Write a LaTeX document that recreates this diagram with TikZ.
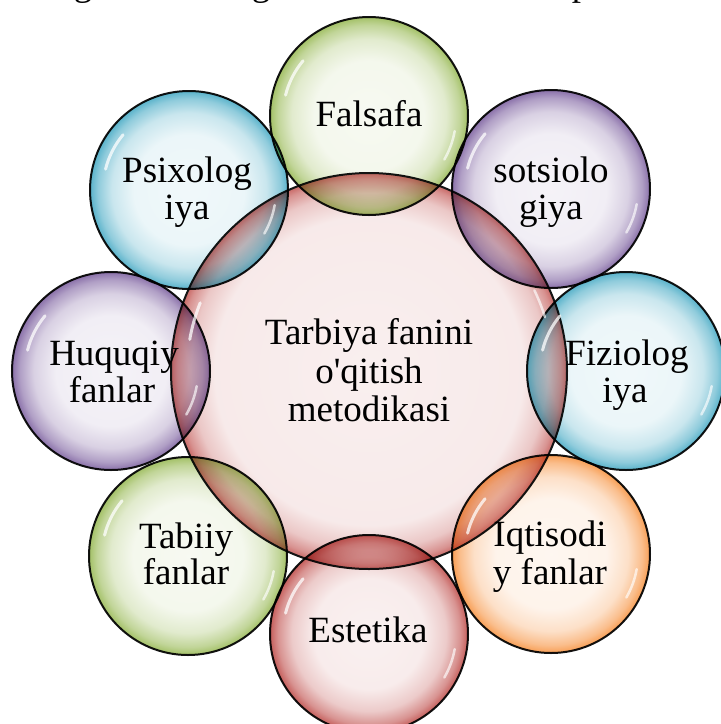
\documentclass[tikz,border=0pt]{standalone}
\usepackage{fontspec}
\setmainfont{Liberation Serif}
\newfontfamily\lserif{Liberation Serif}
\definecolor{cgreen}{HTML}{9BBB59}
\definecolor{cpurple}{HTML}{8064A2}
\definecolor{caqua}{HTML}{4BACC6}
\definecolor{corange}{HTML}{F79646}
\definecolor{cred}{HTML}{C0504D}
\colorlet{bubcol}{cred}
\pgfdeclareradialshading[bubcol]{bubble}{\pgfpoint{0bp}{0bp}}{%
 color(0bp)=(bubcol!8!white); color(14bp)=(bubcol!11!white);
 color(19.5bp)=(bubcol!30!white); color(23bp)=(bubcol!62!white);
 color(25bp)=(bubcol!92!white); color(50bp)=(bubcol!92!white)}
\pgfdeclareradialshading[bubcol]{bigbubble}{\pgfpoint{0bp}{0bp}}{%
 color(0bp)=(bubcol!9!white); color(19.5bp)=(bubcol!12!white);
 color(22.5bp)=(bubcol!32!white); color(24.2bp)=(bubcol!62!white);
 color(25bp)=(bubcol!85!white); color(50bp)=(bubcol!85!white)}
\tikzset{
 bub/.style={circle, inner sep=0pt, minimum size=198pt,
   /utils/exec={\colorlet{bubcol}{#1}}, shading=bubble},
 cenbub/.style={circle, inner sep=0pt, minimum size=396pt,
   /utils/exec={\colorlet{bubcol}{#1}}, shading=bigbubble},
 rim/.style={draw=black!92, line width=2pt},
 lbl/.style={anchor=base, font=\lserif\fontsize{37}{40}\selectfont, inner sep=0pt},
 hl/.style={draw=white, line width=3pt, line cap=round, draw opacity=0.75},
 hlb/.style={draw=white, line width=2.5pt, line cap=round, draw opacity=0.65},
}
\newcommand{\bubhl}[1]{%
 \draw[hl] ([shift={(140:86pt)}]#1.center) arc[start angle=140, end angle=166, radius=86pt];
 \draw[hlb] ([shift={(-30:87pt)}]#1.center) arc[start angle=-30, end angle=-10, radius=87pt];}
\begin{document}
\begin{tikzpicture}[x=1pt,y=1pt]
\useasboundingbox (0,0) rectangle (721,-724);
% fragments of a line of text above the picture
\begin{scope}
\clip (0,0) rectangle (721,-724);
\node[lbl] (topa) at (83,4.5) {g};
\node[lbl] (topb) at (261,4.5) {g};
\node[lbl] (topc) at (581,4.5) {p};
\end{scope}
% central bubble
\node[cenbub=cred, rim] (cen) at (369,-371) {};
% outer bubbles
\begin{scope}[blend mode=multiply]
\node[bub=cgreen, rim] (fal) at (369,-116) {};
\node[bub=cpurple, rim] (sot) at (551,-189) {};
\node[bub=caqua, rim] (fiz) at (626,-371) {};
\node[bub=corange, rim] (iqt) at (551,-554) {};
\node[bub=cred, rim] (est) at (369,-634) {};
\node[bub=cgreen, rim] (tab) at (188,-556) {};
\node[bub=cpurple, rim] (huq) at (111,-371) {};
\node[bub=caqua, rim] (psi) at (189,-190) {};
\end{scope}
% highlights
\foreach \b in {fal,sot,fiz,iqt,est,tab,huq,psi}{\bubhl{\b}}
\draw[hl] ([shift={(158:182pt)}]cen.center) arc[start angle=158, end angle=170, radius=182pt];
\draw[hlb] ([shift={(17:184pt)}]cen.center) arc[start angle=17, end angle=26, radius=184pt];
% texts
\node[lbl] (t1) at (369,-344) {Tarbiya fanini};
\node[lbl] (t2) at (369,-383) {o'qitish};
\node[lbl] (t3) at (369,-421) {metodikasi};
\node[lbl] (falt) at (369,-126) {Falsafa};
\node[lbl] (psia) at (187,-182) {Psixolog};
\node[lbl] (psib) at (187,-219) {iya};
\node[lbl] (sota) at (551,-182) {sotsiolo};
\node[lbl] (sotb) at (551,-219) {giya};
\node[lbl] (fiza) at (627,-365) {Fiziolog};
\node[lbl] (fizb) at (625,-402) {iya};
\node[lbl] (iqta) at (550,-546) {Iqtisodi};
\node[lbl] (iqtb) at (550,-584) {y fanlar};
\node[lbl] (estt) at (368,-642) {Estetika};
\node[lbl] (taba) at (186,-548) {Tabiiy};
\node[lbl] (tabb) at (186,-584) {fanlar};
\node[lbl] (huqa) at (114,-365) {Huquqiy};
\node[lbl] (huqb) at (112,-402) {fanlar};
\end{tikzpicture}
\end{document}
